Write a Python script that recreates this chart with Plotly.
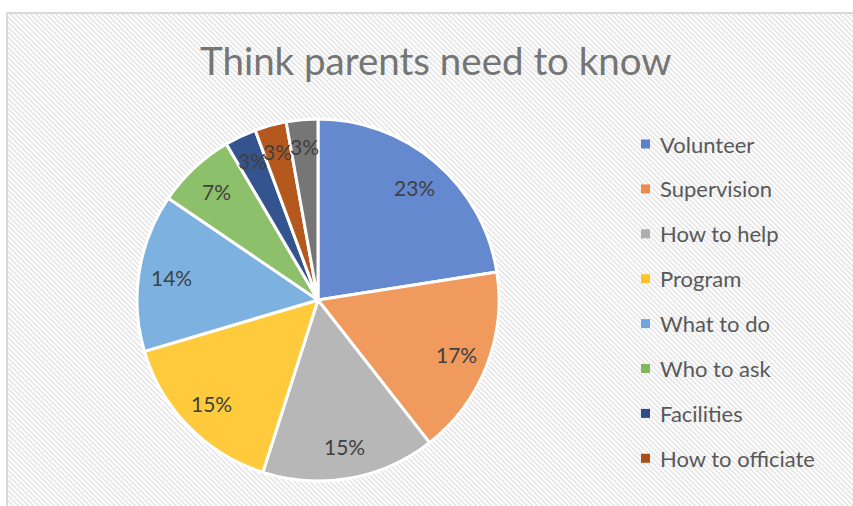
import base64
import math
import plotly.graph_objects as go

# ---- data ----
categories = ["Volunteer", "Supervision", "How to help", "Program", "What to do",
              "Who to ask", "Facilities", "How to officiate", "Other"]
counts = [16, 12, 11, 11, 10, 5, 2, 2, 2]
colors = ["#6489CF", "#F09A5E", "#B7B7B7", "#FFCB3C", "#7DB1E0",
          "#8CC06A", "#33548F", "#B4581E", "#767676"]
legend_colors = ["#5A82CB", "#EF8C4C", "#ADADAD", "#FFC528", "#6DA7DD",
                 "#80B85B", "#2E4C85", "#AA5017"]
title_text = "Think parents need to know"

W, H = 853, 506
CX, CY, R = 318, 300, 181

# background hatch pattern as svg
svg = f'''<svg xmlns="http://www.w3.org/2000/svg" width="{W}" height="{H}" viewBox="0 0 {W} {H}">
<defs><pattern id="p" width="3.6" height="3.6" patternUnits="userSpaceOnUse" patternTransform="rotate(-45)">
<rect width="3.6" height="3.6" fill="#ffffff"/><rect width="1.7" height="3.6" fill="#e6e6e6"/></pattern></defs>
<rect x="0" y="0" width="{W}" height="{H}" fill="#ffffff"/>
<rect x="7" y="13" width="{W}" height="{H}" fill="url(#p)"/>
</svg>'''
src = "data:image/svg+xml;base64," + base64.b64encode(svg.encode()).decode()

fig = go.Figure()
fig.add_trace(go.Pie(
    labels=categories, values=counts, sort=False, direction="clockwise", rotation=0,
    marker=dict(colors=colors, line=dict(color="white", width=3)),
    textinfo="none", hoverinfo="label+percent", showlegend=False,
    domain=dict(x=[(CX - R) / W, (CX + R) / W], y=[1 - (CY + R) / H, 1 - (CY - R) / H]),
))

total = sum(counts)
annotations = []
cum = 0
for c in counts:
    mid = (cum + c / 2) / total * 2 * math.pi
    cum += c
    rr = (0.85 if c / total < 0.05 else 0.82) * R
    px = CX + rr * math.sin(mid)
    py = CY - rr * math.cos(mid)
    annotations.append(dict(x=px / W, y=1 - py / H, xref="paper", yref="paper",
                            xanchor="center", yanchor="middle",
                            text=f"{round(c / total * 100)}%", showarrow=False,
                            font=dict(family="Lato, Carlito, sans-serif", size=21, color="#404040")))

# manual legend (8 visible entries)
shapes = [dict(type="rect", xref="paper", yref="paper", x0=7 / W, x1=1.01, y0=-0.01, y1=1 - 13 / H,
               line=dict(color="#d9d9d9", width=2), fillcolor="rgba(0,0,0,0)", layer="above")]
for i, name in enumerate(categories[:8]):
    yc = 144 + i * 44.9
    shapes.append(dict(type="rect", xref="paper", yref="paper",
                       x0=641 / W, x1=650 / W, y0=1 - (yc + 4.5) / H, y1=1 - (yc - 4.5) / H,
                       fillcolor=legend_colors[i], line=dict(width=0)))
    annotations.append(dict(x=658 / W, y=1 - yc / H, xref="paper", yref="paper", xanchor="left",
                            yanchor="middle", text=name, showarrow=False,
                            font=dict(family="Lato, Carlito, sans-serif", size=22, color="#595959")))

annotations.append(dict(x=436 / W, y=1 - 60 / H, xref="paper", yref="paper", xanchor="center",
                        yanchor="middle", text=title_text, showarrow=False,
                        font=dict(family="Lato, Carlito, sans-serif", size=38.5, color="#757575")))

fig.update_layout(
    width=W, height=H, margin=dict(l=0, r=0, t=0, b=0),
    paper_bgcolor="white", plot_bgcolor="white",
    images=[dict(source=src, xref="paper", yref="paper", x=0, y=1, sizex=1, sizey=1,
                 sizing="stretch", xanchor="left", yanchor="top", layer="below")],
    shapes=shapes, annotations=annotations,
)
fig.write_html("out.html")
